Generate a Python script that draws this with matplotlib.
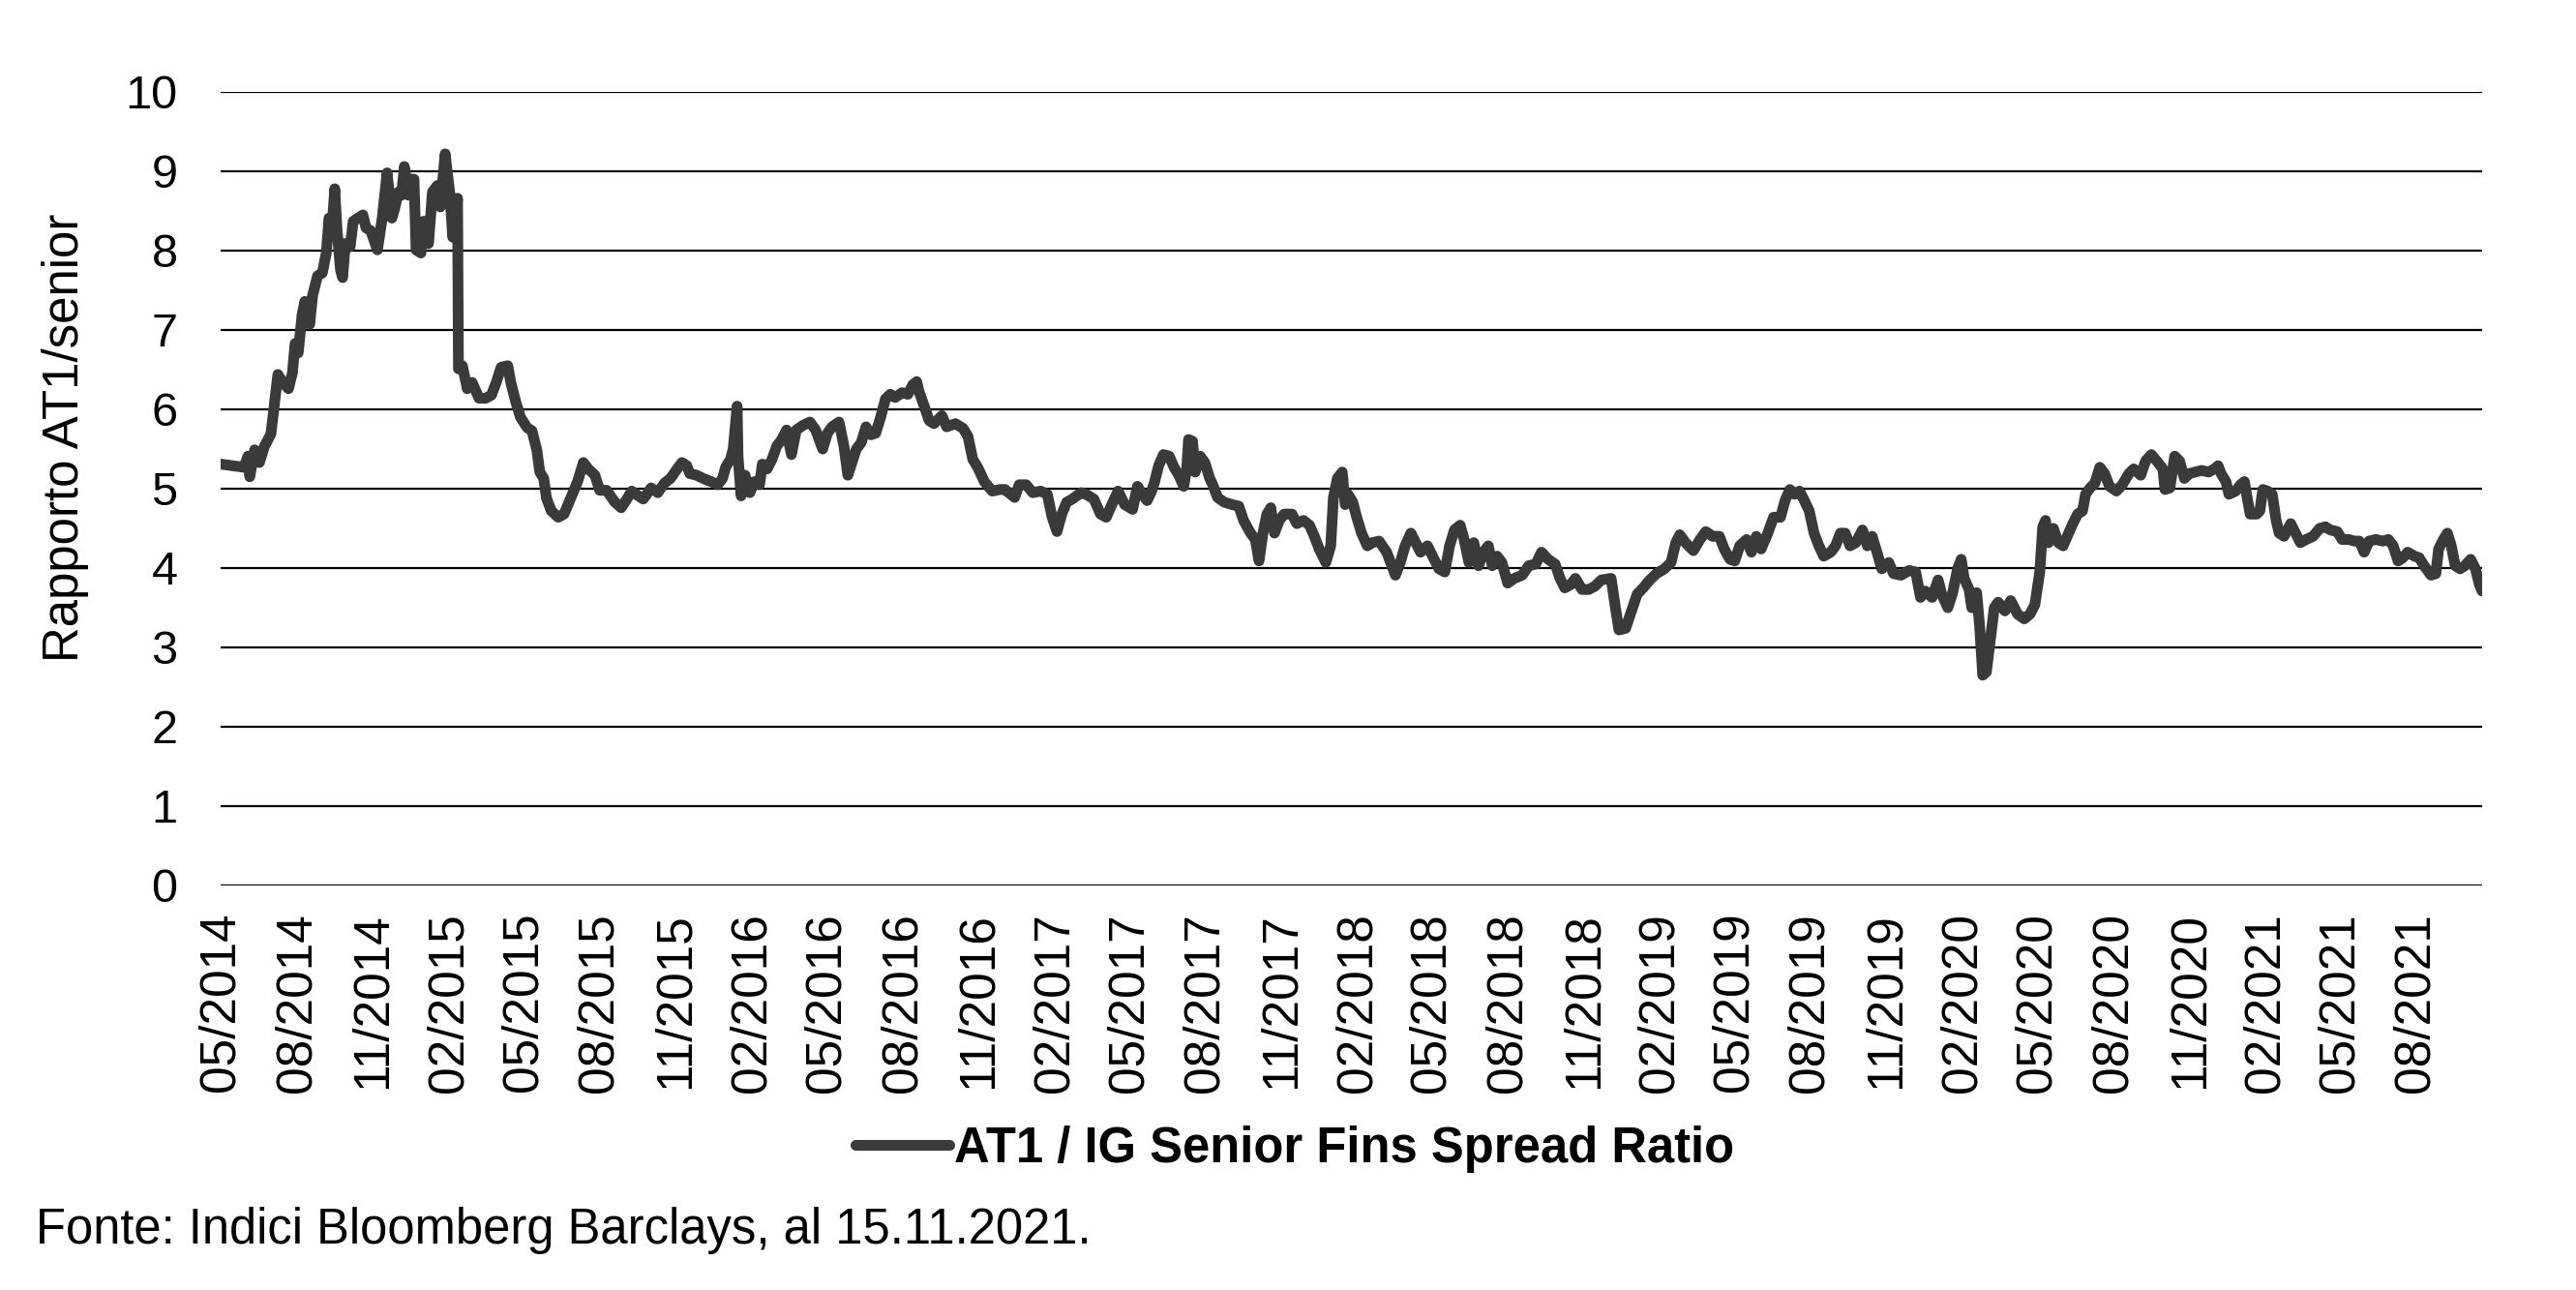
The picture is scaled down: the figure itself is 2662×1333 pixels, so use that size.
import matplotlib
matplotlib.use("Agg")
import matplotlib.pyplot as plt
from matplotlib.lines import Line2D
from datetime import datetime, timedelta

plt.rcParams['font.family'] = ['Liberation Sans', 'DejaVu Sans']

# ---- data ----
# time as decimal years, value = AT1 / IG senior spread ratio
years = [
    2014.403, 2014.480, 2014.493, 2014.499, 2014.515, 2014.531, 2014.547, 2014.569, 2014.579, 2014.592,
    2014.608, 2014.627, 2014.640, 2014.649, 2014.659, 2014.672, 2014.681, 2014.697, 2014.707, 2014.723,
    2014.739, 2014.752, 2014.761, 2014.771, 2014.780, 2014.787, 2014.799, 2014.806, 2014.815, 2014.831,
    2014.841, 2014.857, 2014.873, 2014.883, 2014.899, 2014.921, 2014.937, 2014.953, 2014.969, 2014.978,
    2014.991, 2015.001, 2015.010, 2015.023, 2015.033, 2015.042, 2015.049, 2015.065, 2015.074, 2015.090,
    2015.103, 2015.119, 2015.129, 2015.145, 2015.161, 2015.170, 2015.186, 2015.189, 2015.202, 2015.218,
    2015.234, 2015.257, 2015.279, 2015.298, 2015.314, 2015.330, 2015.352, 2015.362, 2015.378, 2015.394,
    2015.416, 2015.432, 2015.448, 2015.458, 2015.471, 2015.480, 2015.496, 2015.519, 2015.538, 2015.560,
    2015.583, 2015.602, 2015.618, 2015.640, 2015.656, 2015.679, 2015.704, 2015.727, 2015.746, 2015.762,
    2015.784, 2015.800, 2015.826, 2015.848, 2015.870, 2015.890, 2015.912, 2015.928, 2015.944, 2015.954,
    2015.976, 2015.998, 2016.024, 2016.046, 2016.062, 2016.072, 2016.088, 2016.097, 2016.110, 2016.113,
    2016.123, 2016.136, 2016.152, 2016.168, 2016.184, 2016.193, 2016.209, 2016.225, 2016.241, 2016.257,
    2016.273, 2016.289, 2016.305, 2016.328, 2016.350, 2016.369, 2016.392, 2016.408, 2016.423, 2016.446,
    2016.462, 2016.475, 2016.487, 2016.503, 2016.519, 2016.535, 2016.551, 2016.567, 2016.583, 2016.599,
    2016.615, 2016.631, 2016.654, 2016.673, 2016.689, 2016.702, 2016.711, 2016.727, 2016.743, 2016.759,
    2016.785, 2016.801, 2016.830, 2016.855, 2016.871, 2016.887, 2016.903, 2016.925, 2016.951, 2016.977,
    2016.993, 2017.025, 2017.040, 2017.063, 2017.085, 2017.111, 2017.133, 2017.149, 2017.165, 2017.181,
    2017.197, 2017.216, 2017.245, 2017.261, 2017.287, 2017.309, 2017.328, 2017.344, 2017.367, 2017.389,
    2017.415, 2017.431, 2017.447, 2017.463, 2017.478, 2017.488, 2017.501, 2017.517, 2017.536, 2017.552,
    2017.568, 2017.584, 2017.594, 2017.600, 2017.613, 2017.622, 2017.638, 2017.654, 2017.670, 2017.680,
    2017.696, 2017.718, 2017.744, 2017.766, 2017.782, 2017.805, 2017.821, 2017.833, 2017.846, 2017.859,
    2017.872, 2017.884, 2017.900, 2017.916, 2017.942, 2017.958, 2017.980, 2018.000, 2018.016, 2018.032,
    2018.054, 2018.070, 2018.079, 2018.092, 2018.108, 2018.118, 2018.127, 2018.143, 2018.156, 2018.172,
    2018.191, 2018.207, 2018.230, 2018.255, 2018.284, 2018.300, 2018.316, 2018.335, 2018.351, 2018.367,
    2018.390, 2018.412, 2018.428, 2018.447, 2018.463, 2018.479, 2018.498, 2018.511, 2018.527, 2018.543,
    2018.559, 2018.575, 2018.591, 2018.604, 2018.620, 2018.636, 2018.655, 2018.677, 2018.703, 2018.725,
    2018.748, 2018.767, 2018.789, 2018.812, 2018.828, 2018.844, 2018.863, 2018.879, 2018.901, 2018.923,
    2018.943, 2018.965, 2018.997, 2019.013, 2019.023, 2019.045, 2019.061, 2019.083, 2019.103, 2019.125,
    2019.147, 2019.173, 2019.195, 2019.211, 2019.224, 2019.243, 2019.269, 2019.291, 2019.310, 2019.333,
    2019.355, 2019.371, 2019.390, 2019.406, 2019.422, 2019.445, 2019.461, 2019.477, 2019.493, 2019.515,
    2019.534, 2019.557, 2019.572, 2019.588, 2019.604, 2019.620, 2019.636, 2019.652, 2019.668, 2019.684,
    2019.700, 2019.723, 2019.739, 2019.755, 2019.771, 2019.787, 2019.806, 2019.828, 2019.844, 2019.860,
    2019.876, 2019.892, 2019.915, 2019.931, 2019.956, 2019.982, 2020.004, 2020.020, 2020.036, 2020.058,
    2020.078, 2020.090, 2020.110, 2020.126, 2020.142, 2020.154, 2020.164, 2020.180, 2020.189, 2020.205,
    2020.215, 2020.225, 2020.237, 2020.250, 2020.263, 2020.276, 2020.298, 2020.317, 2020.340, 2020.362,
    2020.381, 2020.397, 2020.413, 2020.423, 2020.432, 2020.442, 2020.458, 2020.474, 2020.490, 2020.506,
    2020.522, 2020.538, 2020.554, 2020.564, 2020.579, 2020.595, 2020.611, 2020.627, 2020.643, 2020.666,
    2020.685, 2020.707, 2020.723, 2020.746, 2020.762, 2020.781, 2020.803, 2020.819, 2020.826, 2020.842,
    2020.858, 2020.874, 2020.890, 2020.906, 2020.925, 2020.947, 2020.970, 2020.989, 2021.001, 2021.011,
    2021.027, 2021.037, 2021.059, 2021.075, 2021.088, 2021.097, 2021.107, 2021.129, 2021.139, 2021.149,
    2021.165, 2021.180, 2021.193, 2021.203, 2021.219, 2021.241, 2021.257, 2021.273, 2021.292, 2021.315,
    2021.337, 2021.356, 2021.372, 2021.395, 2021.411, 2021.433, 2021.452, 2021.468, 2021.484, 2021.500,
    2021.523, 2021.545, 2021.564, 2021.580, 2021.596, 2021.612, 2021.628, 2021.650, 2021.666, 2021.682,
    2021.705, 2021.721, 2021.730, 2021.746, 2021.759, 2021.772, 2021.785, 2021.801, 2021.817, 2021.836,
    2021.852, 2021.865, 2021.874,
]
ratio = [
    5.31, 5.27, 5.41, 5.15, 5.49, 5.33, 5.53, 5.69, 6.02, 6.44,
    6.34, 6.26, 6.46, 6.83, 6.71, 7.19, 7.36, 7.07, 7.44, 7.68,
    7.72, 7.97, 8.41, 8.29, 8.78, 8.29, 7.76, 7.66, 8.09, 8.05,
    8.37, 8.41, 8.45, 8.29, 8.25, 8.01, 8.41, 8.98, 8.41, 8.53,
    8.74, 8.70, 9.06, 8.70, 8.90, 8.90, 8.01, 7.97, 8.37, 8.09,
    8.74, 8.82, 8.55, 9.22, 8.70, 8.17, 8.66, 6.51, 6.55, 6.26,
    6.34, 6.14, 6.14, 6.18, 6.34, 6.53, 6.55, 6.34, 6.10, 5.90,
    5.77, 5.73, 5.49, 5.21, 5.13, 4.88, 4.72, 4.64, 4.68, 4.88,
    5.09, 5.33, 5.25, 5.17, 4.98, 4.98, 4.84, 4.76, 4.87, 4.97,
    4.91, 4.87, 5.01, 4.95, 5.07, 5.13, 5.25, 5.33, 5.29, 5.19,
    5.17, 5.13, 5.09, 5.05, 5.13, 5.27, 5.37, 5.50, 6.04, 5.41,
    4.91, 5.17, 4.95, 5.09, 5.05, 5.31, 5.25, 5.37, 5.54, 5.62,
    5.74, 5.43, 5.74, 5.80, 5.84, 5.74, 5.50, 5.70, 5.78, 5.84,
    5.54, 5.17, 5.31, 5.50, 5.58, 5.78, 5.68, 5.70, 5.90, 6.13,
    6.19, 6.15, 6.21, 6.19, 6.31, 6.35, 6.21, 6.04, 5.86, 5.82,
    5.92, 5.78, 5.82, 5.76, 5.66, 5.37, 5.27, 5.09, 4.97, 4.99,
    4.99, 4.89, 5.05, 5.05, 4.95, 4.97, 4.93, 4.64, 4.46, 4.68,
    4.83, 4.87, 4.95, 4.93, 4.87, 4.68, 4.64, 4.78, 4.97, 4.80,
    4.74, 5.03, 4.93, 4.85, 4.97, 5.09, 5.29, 5.43, 5.41, 5.27,
    5.17, 5.03, 5.25, 5.62, 5.60, 5.21, 5.41, 5.33, 5.13, 5.05,
    4.89, 4.83, 4.80, 4.78, 4.60, 4.44, 4.36, 4.09, 4.44, 4.68,
    4.76, 4.44, 4.60, 4.68, 4.68, 4.56, 4.60, 4.54, 4.40, 4.24,
    4.07, 4.28, 4.89, 5.13, 5.21, 4.80, 4.93, 4.83, 4.64, 4.44,
    4.28, 4.32, 4.34, 4.20, 3.91, 4.07, 4.28, 4.44, 4.32, 4.20,
    4.28, 4.11, 3.99, 3.95, 4.28, 4.48, 4.54, 4.36, 4.07, 4.32,
    4.03, 4.20, 4.28, 4.03, 4.15, 4.07, 3.81, 3.87, 3.91, 4.03,
    4.05, 4.20, 4.11, 4.05, 3.87, 3.75, 3.79, 3.87, 3.73, 3.73,
    3.77, 3.85, 3.87, 3.46, 3.22, 3.24, 3.42, 3.67, 3.75, 3.85,
    3.93, 3.99, 4.07, 4.32, 4.42, 4.32, 4.22, 4.36, 4.46, 4.40,
    4.40, 4.24, 4.11, 4.09, 4.28, 4.36, 4.20, 4.40, 4.24, 4.44,
    4.64, 4.64, 4.85, 4.99, 4.93, 4.97, 4.85, 4.72, 4.44, 4.28,
    4.15, 4.20, 4.28, 4.44, 4.44, 4.28, 4.32, 4.48, 4.28, 4.40,
    4.20, 3.99, 4.07, 3.93, 3.91, 3.97, 3.95, 3.63, 3.71, 3.63,
    3.85, 3.67, 3.50, 3.69, 3.99, 4.11, 3.87, 3.73, 3.50, 3.69,
    3.26, 2.65, 2.69, 3.10, 3.50, 3.57, 3.46, 3.59, 3.42, 3.36,
    3.42, 3.54, 3.95, 4.52, 4.60, 4.32, 4.50, 4.32, 4.28, 4.42,
    4.56, 4.68, 4.72, 4.93, 5.01, 5.07, 5.27, 5.19, 5.03, 4.97,
    5.05, 5.19, 5.25, 5.17, 5.35, 5.43, 5.33, 5.25, 4.99, 5.01,
    5.41, 5.35, 5.13, 5.19, 5.21, 5.23, 5.21, 5.25, 5.29, 5.19,
    5.09, 4.93, 4.97, 5.05, 5.09, 4.89, 4.68, 4.68, 4.72, 4.99,
    4.97, 4.93, 4.60, 4.44, 4.40, 4.56, 4.44, 4.32, 4.36, 4.40,
    4.50, 4.52, 4.48, 4.46, 4.36, 4.36, 4.34, 4.34, 4.20, 4.34,
    4.36, 4.34, 4.36, 4.28, 4.09, 4.13, 4.20, 4.15, 4.13, 4.03,
    3.91, 3.93, 4.24, 4.36, 4.44, 4.28, 4.03, 3.99, 4.03, 4.11,
    3.99, 3.79, 3.71,
]
tick_labels = [
    '05/2014', '08/2014', '11/2014',
    '02/2015', '05/2015', '08/2015', '11/2015',
    '02/2016', '05/2016', '08/2016', '11/2016',
    '02/2017', '05/2017', '08/2017', '11/2017',
    '02/2018', '05/2018', '08/2018', '11/2018',
    '02/2019', '05/2019', '08/2019', '11/2019',
    '02/2020', '05/2020', '08/2020', '11/2020',
    '02/2021', '05/2021', '08/2021',
]
y_ticks = list(range(0, 11))
series_name = 'AT1 / IG Senior Fins Spread Ratio'
y_title = 'Rapporto AT1/senior'
source_note = 'Fonte: Indici Bloomberg Barclays, al 15.11.2021.'


def dec_to_dt(d):
    y = int(d)
    start = datetime(y, 1, 1)
    ndays = (datetime(y + 1, 1, 1) - start).days
    return start + timedelta(days=(d - y) * ndays)


dates = [dec_to_dt(d) for d in years]
tick_dates = [datetime(int(s[3:]), int(s[:2]), 28) for s in tick_labels]

W, H = 2662, 1333
fig = plt.figure(figsize=(W / 100, H / 100), dpi=100)
ax = fig.add_axes([228 / W, 1 - 915 / H, (2565 - 228) / W, (915 - 95) / H])

line_color = '#3a3a3a'
ax.plot(dates, ratio, color=line_color, lw=8.0, solid_capstyle='round',
        solid_joinstyle='round', zorder=3)

ax.set_xlim(dates[0], dates[-1])
ax.set_ylim(0, 10)
ax.set_yticks(y_ticks)
ax.set_yticklabels([str(v) for v in y_ticks])
ax.set_xticks(tick_dates)
ax.set_xticklabels(tick_labels, rotation=90, ha='center', va='top')

ax.grid(axis='y', color='black', lw=1.6, zorder=1)
ax.grid(axis='x', visible=False)
for s in ax.spines.values():
    s.set_visible(False)
ax.tick_params(axis='both', length=0, colors='black')
ax.tick_params(axis='y', labelsize=35, pad=32)
ax.tick_params(axis='x', labelsize=37, pad=20)
ax.set_axisbelow(True)

fig.text(68 / W, 1 - 452 / H, y_title, rotation=90, ha='center', va='center', fontsize=36.7)

handle = Line2D([0], [0], color=line_color, lw=8.0, solid_capstyle='round')
fig.legend([handle], [series_name], loc='center', bbox_to_anchor=(1338 / W, 1 - 1187 / H),
           frameon=False, handlelength=1.9, handletextpad=0.1,
           prop={'weight': 'bold', 'size': 36.5})

fig.text(37 / W, 1 - 1272 / H, source_note, ha='left', va='center', fontsize=36.5)

fig.savefig('out.png', dpi=100, facecolor='white')
